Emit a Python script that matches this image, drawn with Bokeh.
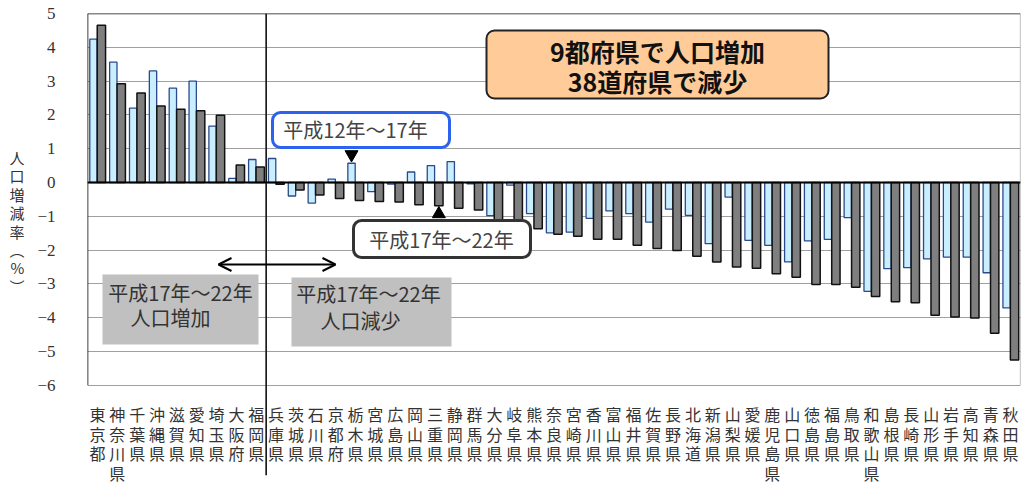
from bokeh.plotting import figure
from bokeh.models import (ColumnDataSource, FixedTicker, Range1d, BoxAnnotation,
                          Label, Arrow, OpenHead, Span)
from bokeh.transform import dodge
from bokeh.core.properties import value
from bokeh.embed import file_html
from bokeh.resources import INLINE

# ---------------- data ----------------
prefectures = ["東京都", "神奈川県", "千葉県", "沖縄県", "滋賀県", "愛知県", "埼玉県", "大阪府",
               "福岡県", "兵庫県", "茨城県", "石川県", "京都府", "栃木県", "宮城県", "広島県",
               "岡山県", "三重県", "静岡県", "群馬県", "大分県", "岐阜県", "熊本県", "奈良県",
               "宮崎県", "香川県", "富山県", "福井県", "佐賀県", "長野県", "北海道", "新潟県",
               "山梨県", "愛媛県", "鹿児島県", "山口県", "徳島県", "福島県", "鳥取県", "和歌山県",
               "島根県", "長崎県", "山形県", "岩手県", "高知県", "青森県", "秋田県"]

# 平成12年～17年 (light blue)
rate_h12_17 = [4.24, 3.56, 2.20, 3.30, 2.79, 3.00, 1.67, 0.12,
               0.68, 0.71, -0.40, -0.61, 0.10, 0.57, -0.27, -0.05,
               0.31, 0.50, 0.62, -0.04, -0.98, -0.08, -0.92, -1.49,
               -1.47, -1.06, -0.84, -0.92, -1.17, -0.79, -0.97, -1.81,
               -0.43, -1.71, -1.86, -2.35, -1.73, -1.68, -1.04, -3.22,
               -2.55, -2.52, -2.26, -2.21, -2.21, -2.67, -3.71]

# 平成17年～22年 (dark gray)
rate_h17_22 = [4.65, 2.92, 2.65, 2.26, 2.17, 2.12, 1.99, 0.52,
               0.46, -0.05, -0.22, -0.37, -0.47, -0.53, -0.56, -0.58,
               -0.66, -0.69, -0.76, -0.81, -1.11, -1.37, -1.37, -1.53,
               -1.59, -1.68, -1.68, -1.86, -1.95, -2.01, -2.18, -2.35,
               -2.50, -2.54, -2.70, -2.80, -3.02, -3.02, -3.10, -3.37,
               -3.53, -3.56, -3.93, -3.98, -4.01, -4.46, -5.25]

y_ticks = list(range(-6, 6))
y_title_chars = ["人", "口", "増", "減", "率", "︵", "%", "︶"]
summary_lines = ["9都府県で人口増加", "38道府県で減少"]
label_h12_17 = "平成12年～17年"
label_h17_22 = "平成17年～22年"
label_up = ["平成17年～22年", "人口増加"]
label_down = ["平成17年～22年", "人口減少"]

# ---------------- layout ----------------
W, H = 1021, 485
TOP, LEFT, RIGHT = 13, 87, 1
UNIT = 33.8                      # px per 1 %
Y_MAX, Y_MIN = 5, -6
n = len(prefectures)
y_bottom = Y_MAX - (H - TOP) / UNIT

def py(px_below_min):
    """data y for a point px_below_min pixels below the -6 line"""
    return Y_MIN - px_below_min / UNIT

def sx(ref_x):
    return (ref_x - LEFT) / ((W - LEFT - RIGHT) / n)

def sy(ref_y):
    return Y_MAX - (ref_y - TOP) / UNIT

JP = value("Noto Sans CJK JP")

p = figure(width=W, height=H, x_range=prefectures, y_range=Range1d(y_bottom, Y_MAX),
           output_backend="svg", toolbar_location=None, x_axis_location=None,
           min_border_top=TOP, min_border_left=LEFT, min_border_right=RIGHT,
           min_border_bottom=0)
p.outline_line_color = None
p.xgrid.visible = False
p.ygrid.grid_line_color = "#a0a0a0"
p.ygrid.grid_line_width = 1

ax = p.yaxis[0]
ax.ticker = FixedTicker(ticks=y_ticks)
ax.axis_line_color = None
ax.major_tick_line_color = None
ax.minor_tick_line_color = None
ax.major_tick_out = 0
ax.major_tick_in = 0
ax.minor_tick_out = 0
ax.major_label_text_font = "Liberation Serif"
ax.major_label_text_font_size = "17px"
ax.major_label_text_color = "#333333"
ax.major_label_standoff = 32

# y axis title: stacked upright characters
try:
    ax.axis_label = "\n".join(y_title_chars + ["　", "　", "　"])
    ax.axis_label_orientation = "horizontal"
    ax.axis_label_text_line_height = 0.88
except Exception:
    ax.axis_label = "".join(y_title_chars)
ax.axis_label_standoff = 10
ax.axis_label_text_font = "Noto Sans CJK JP"
ax.axis_label_text_font_size = "15px"
ax.axis_label_text_font_style = "normal"
ax.axis_label_text_color = "#333333"

src = ColumnDataSource(dict(pref=prefectures, a=rate_h12_17, b=rate_h17_22))
p.vbar(x=dodge("pref", -0.2, range=p.x_range), top="a", bottom=0, width=0.37,
       fill_color="#c8eeff", line_color="#2b4a8c", line_width=1.3, source=src)
p.vbar(x=dodge("pref", 0.2, range=p.x_range), top="b", bottom=0, width=0.42,
       fill_color="#7f7f7f", line_color="#111111", line_width=1.5, source=src)

# zero line
p.add_layout(Span(location=0, dimension="width", line_color="black", line_width=2))

# frame borders (only over the -6..5 region)
p.segment(x0=[0, 0], y0=[Y_MIN, Y_MAX], x1=[0, n], y1=[Y_MAX, Y_MAX],
          line_color="#111111", line_width=1.6)
p.segment(x0=[n], y0=[Y_MIN], x1=[n], y1=[Y_MAX], line_color="#999999", line_width=1.2)

# divider between increasing / decreasing prefectures
n_up = sum(1 for v in rate_h17_22 if v > 0)
p.segment(x0=[n_up], y0=[Y_MAX], x1=[n_up], y1=[py(90)], line_color="#111111", line_width=1.6)

# category labels, written vertically
xs, ys, chars = [], [], []
for name in prefectures:
    for k, ch in enumerate(name):
        xs.append(name)
        ys.append(py(29 + 19.5 * k))
        chars.append(ch)
p.text(x=xs, y=ys, text=chars, text_align="center", text_baseline="middle",
       text_font=JP, text_font_size="16px", text_color="#333333")

# summary box
p.add_layout(BoxAnnotation(left=sx(486), right=sx(828), top=sy(30), bottom=sy(98),
                           fill_color="#ffcc99", fill_alpha=1, line_color="#222222",
                           line_alpha=1, line_width=2, border_radius=8))
for k, t in enumerate(summary_lines):
    p.add_layout(Label(x=sx(657), y=sy(50 + 30 * k), text=t, text_align="center",
                       text_baseline="middle", text_font="Noto Sans CJK JP",
                       text_font_style="bold", text_font_size="25px", text_color="#111111"))

# 平成12年～17年 label
p.add_layout(BoxAnnotation(left=sx(272), right=sx(449), top=sy(112), bottom=sy(147),
                           fill_color="white", fill_alpha=1, line_color="#2b63ee",
                           line_alpha=1, line_width=3, border_radius=8))
p.add_layout(Label(x=sx(355), y=sy(129), text=label_h12_17, text_align="center",
                   text_baseline="middle", text_font="Noto Sans CJK JP",
                   text_font_size="20px", text_color="#444444"))
i_t = prefectures.index("栃木県")
p.scatter(x=[(prefectures[i_t], -0.2)], y=[rate_h12_17[i_t] + 0.26], marker="inverted_triangle",
          size=13, fill_color="black", line_color="black")

# 平成17年～22年 label
p.add_layout(BoxAnnotation(left=sx(353), right=sx(530), top=sy(220), bottom=sy(257),
                           fill_color="white", fill_alpha=1, line_color="#333333",
                           line_alpha=1, line_width=3, border_radius=8))
p.add_layout(Label(x=sx(441), y=sy(239), text=label_h17_22, text_align="center",
                   text_baseline="middle", text_font="Noto Sans CJK JP",
                   text_font_size="20px", text_color="#444444"))
i_m = prefectures.index("三重県")
p.scatter(x=[(prefectures[i_m], 0.2)], y=[rate_h17_22[i_m] - 0.24], marker="triangle",
          size=13, fill_color="black", line_color="black")

# gray boxes
p.add_layout(BoxAnnotation(left=sx(102), right=sx(258), top=sy(274), bottom=sy(344),
                           fill_color="#c0c0c0", fill_alpha=1, line_color=None))
p.add_layout(BoxAnnotation(left=sx(291), right=sx(451), top=sy(277), bottom=sy(346),
                           fill_color="#c0c0c0", fill_alpha=1, line_color=None))
for (cx, cy), t in zip([(180, 292), (170, 317)], label_up):
    p.add_layout(Label(x=sx(cx), y=sy(cy), text=t, text_align="center", text_baseline="middle",
                       text_font="Noto Sans CJK JP", text_font_size="20px", text_color="#333333"))
for (cx, cy), t in zip([(368, 293), (360, 320)], label_down):
    p.add_layout(Label(x=sx(cx), y=sy(cy), text=t, text_align="center", text_baseline="middle",
                       text_font="Noto Sans CJK JP", text_font_size="20px", text_color="#333333"))

# double arrow
p.add_layout(Arrow(start=OpenHead(size=13, line_width=2, line_color="black"),
                   end=OpenHead(size=13, line_width=2, line_color="black"),
                   x_start=sx(218), y_start=sy(264), x_end=sx(335), y_end=sy(264),
                   line_color="black", line_width=2))

open("out.html", "w").write(file_html(p, INLINE))
